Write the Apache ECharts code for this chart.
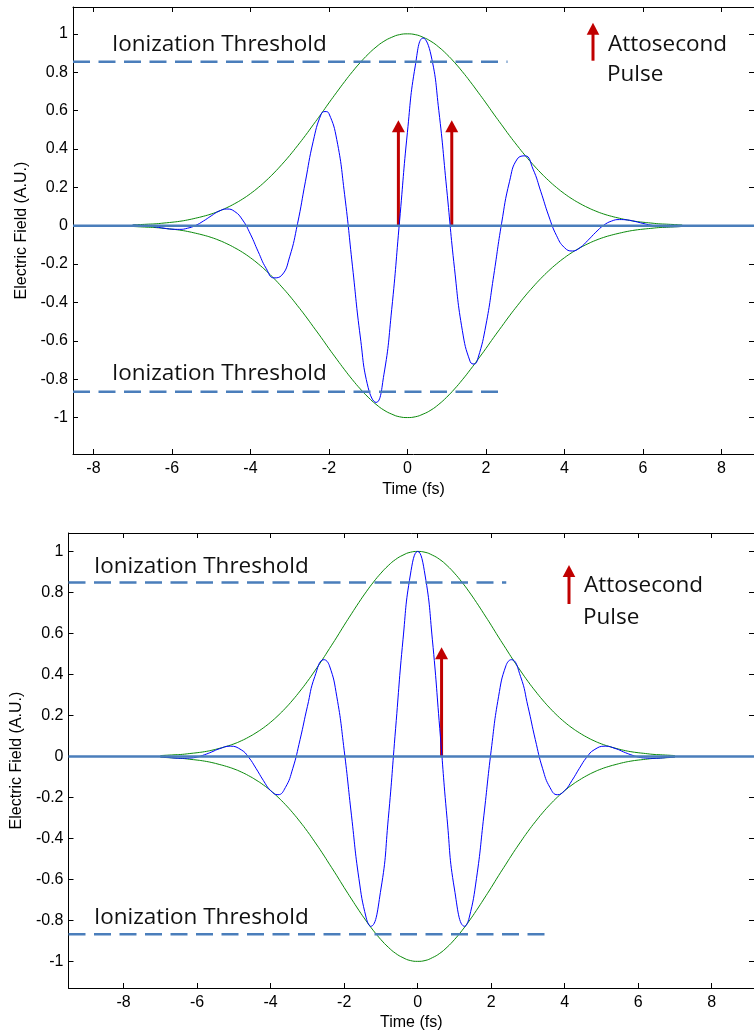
<!DOCTYPE html>
<html>
<head>
<meta charset="utf-8">
<title>Electric field and attosecond pulses</title>
<script src="https://cdn.jsdelivr.net/npm/echarts@6/dist/echarts.min.js"></script>
<style>
  html, body { margin: 0; padding: 0; background: #fff; }
  #chart { width: 754px; height: 1036px; }
</style>
</head>
<body>
<div id="chart"></div>
<script>
// ---- data -------------------------------------------------------------
// time samples (fs) for the Gaussian envelope
const envTime = [-7,-6.8,-6.6,-6.4,-6.2,-6,-5.8,-5.6,-5.4,-5.2,-5,-4.8,-4.6,-4.4,-4.2,-4,-3.8,-3.6,-3.4,-3.2,-3,-2.8,-2.6,-2.4,-2.2,-2,-1.8,-1.6,-1.4,-1.2,-1,-0.8,-0.6,-0.4,-0.2,0,0.2,0.4,0.6,0.8,1,1.2,1.4,1.6,1.8,2,2.2,2.4,2.6,2.8,3,3.2,3.4,3.6,3.8,4,4.2,4.4,4.6,4.8,5,5.2,5.4,5.6,5.8,6,6.2,6.4,6.6,6.8,7];
const envUpper = [.004,.006,.008,.010,.014,.018,.023,.030,.039,.049,.061,.076,.094,.115,.139,.167,.199,.235,.275,.319,.366,.417,.470,.526,.582,.640,.696,.751,.803,.851,.894,.931,.961,.982,.996,1,.996,.982,.961,.931,.894,.851,.803,.751,.696,.640,.582,.526,.470,.417,.366,.319,.275,.235,.199,.167,.139,.115,.094,.076,.061,.049,.039,.030,.023,.018,.014,.010,.008,.006,.004];
const envLower = [-.004,-.006,-.008,-.010,-.014,-.018,-.023,-.030,-.039,-.049,-.061,-.076,-.094,-.115,-.139,-.167,-.199,-.235,-.275,-.319,-.366,-.417,-.470,-.526,-.582,-.640,-.696,-.751,-.803,-.851,-.894,-.931,-.961,-.982,-.996,-1,-.996,-.982,-.961,-.931,-.894,-.851,-.803,-.751,-.696,-.640,-.582,-.526,-.470,-.417,-.366,-.319,-.275,-.235,-.199,-.167,-.139,-.115,-.094,-.076,-.061,-.049,-.039,-.030,-.023,-.018,-.014,-.010,-.008,-.006,-.004];

// upper panel: field with a shifted carrier phase
const topTime = [-7,-6.8,-6.6,-6.4,-6.2,-6,-5.8,-5.6,-5.4,-5.2,-5,-4.8,-4.6,-4.4,-4.2,-4,-3.8,-3.6,-3.4,-3.2,-3,-2.8,-2.6,-2.4,-2.2,-2.1,-2,-1.8,-1.6,-1.4,-1.2,-1,-0.8,-0.6,-0.4,-0.2,0,0.2,0.4,0.6,0.8,1,1.2,1.4,1.6,1.7,1.8,2,2.2,2.4,2.6,2.8,3,3.2,3.4,3.6,3.8,4,4.2,4.4,4.6,4.8,5,5.2,5.4,5.6,5.8,6,6.2,6.4,6.6,6.8,7];
const topField = [.003,.001,-.002,-.007,-.013,-.018,-.019,-.013,.001,.024,.051,.076,.087,.074,.030,-.044,-.136,-.222,-.272,-.258,-.162,.010,.229,.440,.580,.595,.585,.449,.162,-.211,-.580,-.844,-.921,-.777,-.436,.024,.487,.833,.978,.890,.600,.193,-.224,-.547,-.709,-.721,-.689,-.518,-.258,.013,.229,.348,.364,.295,.177,.051,-.052,-.114,-.132,-.114,-.076,-.034,.002,.024,.032,.030,.022,.012,.003,-.003,-.005,-.005,-.004];

// lower panel: cosine-like field centred on the envelope peak
const bottomTime = [-7,-6.8,-6.6,-6.4,-6.2,-6,-5.8,-5.6,-5.4,-5.1,-4.8,-4.6,-4.4,-4.2,-4,-3.8,-3.6,-3.4,-3.2,-3,-2.8,-2.55,-2.4,-2.2,-2,-1.8,-1.6,-1.4,-1.28,-1,-0.8,-0.6,-0.4,-0.2,0,0.2,0.4,0.6,0.8,1,1.28,1.4,1.6,1.8,2,2.2,2.4,2.55,2.8,3,3.2,3.4,3.6,3.8,4,4.2,4.4,4.6,4.8,5.1,5.4,5.6,5.8,6,6.2,6.4,6.6,6.8,7];
const bottomField = [-.002,-.005,-.008,-.009,-.008,-.003,.008,.022,.037,.050,.032,-.004,-.058,-.117,-.167,-.187,-.152,-.060,.082,.244,.389,.472,.442,.291,.030,-.290,-.595,-.788,-.829,-.647,-.304,.137,.569,.885,1,.885,.569,.137,-.304,-.647,-.829,-.788,-.595,-.290,.030,.291,.442,.472,.389,.244,.082,-.060,-.152,-.187,-.167,-.117,-.058,-.004,.032,.050,.037,.022,.008,-.003,-.008,-.009,-.008,-.005,-.002];

// ionization threshold levels and where each dashed line ends (fs)
const topThresholdLevels = [0.854, -0.866];
const topThresholdEnds = [2.55, 2.5];
const bottomThresholdLevels = [0.848, -0.868];
const bottomThresholdEnds = [2.41, 3.49];

// attosecond bursts: emission times (fs) and arrow height (A.U.)
const topPulseTimes = [-0.23, 1.13];
const topPulseHeight = 0.55;
const bottomPulseTimes = [0.65];
const bottomPulseHeight = 0.532;

// axis ranges and tick values
const topXRange = [-8.52, 8.83];
const topYRange = [-1.19, 1.14];
const bottomXRange = [-9.5, 9.15];
const bottomYRange = [-1.13, 1.09];
const xTicks = [-8, -6, -4, -2, 0, 2, 4, 6, 8];
const yTicks = [-1, -0.8, -0.6, -0.4, -0.2, 0, 0.2, 0.4, 0.6, 0.8, 1];

const thresholdText = 'Ionization Threshold';
const pulseLegendText = ['Attosecond', 'Pulse'];
const xName = 'Time (fs)';
const yName = 'Electric Field (A.U.)';

// ---- styles -----------------------------------------------------------
const AXIS_FONT = '"Liberation Sans", Arial, sans-serif';
const NOTE_FONT = '"Open Sans", sans-serif';
const FIELD_BLUE = '#0000ff';
const ENV_GREEN = '#0a8a0a';
const SHAPE_BLUE = '#4a7ebb';
const PULSE_RED = '#c00000';

const pairs = (xs, ys) => xs.map((x, i) => [x, ys[i]]);

function xAxes(gridIndex, range, nameGap) {
  const common = {
    gridIndex, type: 'value', min: range[0], max: range[1],
    splitLine: { show: false },
    axisLine: { show: true, onZero: false, lineStyle: { color: '#000', width: 1 } },
    axisTick: { show: true, inside: true, length: 5, customValues: xTicks, lineStyle: { color: '#000', width: 1 } }
  };
  return [
    Object.assign({}, common, {
      position: 'bottom',
      axisLabel: { show: true, customValues: xTicks, margin: 7, color: '#000', fontSize: 16, fontFamily: AXIS_FONT },
      name: xName, nameLocation: 'middle', nameGap,
      nameTextStyle: { color: '#000', fontSize: 16, fontFamily: AXIS_FONT }
    }),
    Object.assign({}, common, { position: 'top', axisLabel: { show: false } })
  ];
}

function yAxes(gridIndex, range) {
  const common = {
    gridIndex, type: 'value', min: range[0], max: range[1],
    splitLine: { show: false },
    axisLine: { show: true, onZero: false, lineStyle: { color: '#000', width: 1 } },
    axisTick: { show: true, inside: true, length: 5, customValues: yTicks, lineStyle: { color: '#000', width: 1 } }
  };
  return [
    Object.assign({}, common, {
      position: 'left',
      axisLabel: { show: true, customValues: yTicks, margin: 5, color: '#000', fontSize: 16, fontFamily: AXIS_FONT },
      name: yName, nameLocation: 'middle', nameGap: 43,
      nameTextStyle: { color: '#000', fontSize: 16, fontFamily: AXIS_FONT }
    }),
    Object.assign({}, common, { position: 'right', axisLabel: { show: false } })
  ];
}

function curve(xi, yi, data, color) {
  return {
    type: 'line', xAxisIndex: xi, yAxisIndex: yi, data,
    smooth: true, showSymbol: false, symbol: 'none', silent: true,
    lineStyle: { color, width: 1 }
  };
}

function shapeLine(xi, yi, data, dashed) {
  return {
    type: 'line', xAxisIndex: xi, yAxisIndex: yi, data,
    showSymbol: false, symbol: 'none', silent: true,
    lineStyle: { color: SHAPE_BLUE, width: 2.5, type: dashed ? [17, 8.5] : 'solid' }
  };
}

function pulseArrows(xi, yi, times, height) {
  return {
    type: 'custom', xAxisIndex: xi, yAxisIndex: yi, coordinateSystem: 'cartesian2d',
    data: times.map(t => [t, height]), encode: { x: 0, y: 1 }, silent: true,
    renderItem(params, api) {
      const base = api.coord([api.value(0), 0]);
      const tip = api.coord([api.value(0), api.value(1)]);
      return {
        type: 'group',
        children: [
          { type: 'rect', shape: { x: base[0] - 1.5, y: tip[1] + 10, width: 3, height: base[1] - tip[1] - 10 },
            style: { fill: PULSE_RED } },
          { type: 'polygon', shape: { points: [[tip[0], tip[1]], [tip[0] - 6.5, tip[1] + 12], [tip[0] + 6.5, tip[1] + 12]] },
            style: { fill: PULSE_RED } }
        ]
      };
    }
  };
}

function panelSeries(xi, yi, xRange, fieldTime, field, levels, ends, pulseTimes, pulseHeight) {
  const list = [
    curve(xi, yi, pairs(envTime, envUpper), ENV_GREEN),
    curve(xi, yi, pairs(envTime, envLower), ENV_GREEN),
    curve(xi, yi, pairs(fieldTime, field), FIELD_BLUE),
    shapeLine(xi, yi, [[xRange[0], 0], [xRange[1], 0]], false)
  ];
  levels.forEach((lv, i) => list.push(shapeLine(xi, yi, [[xRange[0], lv], [ends[i], lv]], true)));
  list.push(pulseArrows(xi, yi, pulseTimes, pulseHeight));
  return list;
}

function note(x, y, text) {
  return { type: 'text', x, y, silent: true, z: 100,
    style: { text, fill: '#111', font: '22.5px ' + NOTE_FONT, align: 'left', verticalAlign: 'middle' } };
}

function legendArrow(x, tipY, bottomY) {
  return { type: 'group', silent: true, z: 100, children: [
    { type: 'rect', shape: { x: x - 1.5, y: tipY + 10, width: 3, height: bottomY - tipY - 10 }, style: { fill: PULSE_RED } },
    { type: 'polygon', shape: { points: [[x, tipY], [x - 6.3, tipY + 12], [x + 6.3, tipY + 12]] }, style: { fill: PULSE_RED } }
  ] };
}

const option = {
  animation: false,
  backgroundColor: '#fff',
  grid: [
    { left: 73, top: 7, width: 688, height: 447 },
    { left: 68.5, top: 533, width: 686, height: 455 }
  ],
  xAxis: [...xAxes(0, topXRange, 28), ...xAxes(1, bottomXRange, 27)],
  yAxis: [...yAxes(0, topYRange), ...yAxes(1, bottomYRange)],
  series: [
    ...panelSeries(0, 0, topXRange, topTime, topField, topThresholdLevels, topThresholdEnds, topPulseTimes, topPulseHeight),
    ...panelSeries(2, 2, bottomXRange, bottomTime, bottomField, bottomThresholdLevels, bottomThresholdEnds, bottomPulseTimes, bottomPulseHeight)
  ],
  graphic: [
    note(112, 44.6, thresholdText),
    note(112, 374, thresholdText),
    note(608, 44.3, pulseLegendText[0]),
    note(607, 74.6, pulseLegendText[1]),
    legendArrow(593, 22.7, 60.7),
    note(94, 566.3, thresholdText),
    note(94, 918, thresholdText),
    note(584, 585.3, pulseLegendText[0]),
    note(583, 618, pulseLegendText[1]),
    legendArrow(569, 565, 604)
  ]
};

const chart = echarts.init(document.getElementById('chart'), null, { renderer: 'canvas' });
chart.setOption(option);
</script>
</body>
</html>
